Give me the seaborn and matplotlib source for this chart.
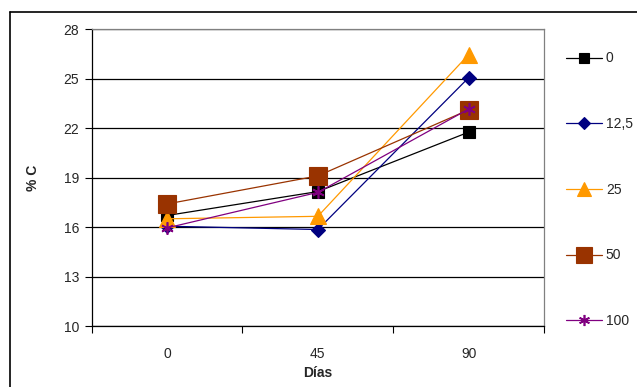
import matplotlib
matplotlib.use("Agg")
import matplotlib.pyplot as plt
from matplotlib.lines import Line2D
import seaborn as sns
import pandas as pd

dias = ["0", "45", "90"]
series = ["0", "12,5", "25", "50", "100"]
v_0 = [16.7, 18.15, 21.75]
v_12 = [16.05, 15.85, 25.05]
v_25 = [16.5, 16.65, 26.45]
v_50 = [17.4, 19.1, 23.1]
v_100 = [15.95, 18.1, 23.15]
values = [v_0, v_12, v_25, v_50, v_100]
yticks = [10, 13, 16, 19, 22, 25, 28]

colors = ["#000000", "#000080", "#FF9900", "#993300", "#800080"]
markers = ["s", "D", "^", "s", (6, 2, 0)]
msizes = [8.5, 6.8, 11, 12.5, 9]
leg_sizes = [7, 6, 10, 11, 8]
mews = [0.8, 0.8, 0.8, 0.8, 1.2]

rows = []
for s, vals in zip(series, values):
    for i, (d, v) in enumerate(zip(dias, vals)):
        rows.append({"serie": s, "pos": i, "dia": d, "val": v})
df = pd.DataFrame(rows)

sns.set_style("white")
plt.rcParams["font.family"] = ["Liberation Sans", "DejaVu Sans"]

fig = plt.figure(figsize=(6.37, 3.87), dpi=100)
ax = fig.add_axes([0.1440, 0.1575, 0.7100, 0.7675])

for s, c, m, ms, mew in zip(series, colors, markers, msizes, mews):
    sub = df[df["serie"] == s]
    sns.lineplot(data=sub, x="pos", y="val", ax=ax, color=c, marker=m,
                 markersize=ms, markeredgecolor=c, markerfacecolor=c,
                 markeredgewidth=mew, linewidth=0.9, label=s, legend=False,
                 zorder=3)

ax.set_xlim(-0.5, 2.5)
ax.set_ylim(10, 28)
ax.set_yticks(yticks)
ax.set_yticklabels([str(t) for t in yticks], fontsize=10)
ax.set_xticks([-0.5, 0.5, 1.5, 2.5])
ax.set_xticklabels([])
ax.set_xticks([0, 1, 2], minor=True)
ax.set_xticklabels(dias, minor=True, fontsize=10)
ax.tick_params(axis="x", which="major", direction="out", length=5, width=0.8,
               color="black", bottom=True)
ax.tick_params(axis="x", which="minor", length=0, pad=15)
ax.tick_params(axis="y", direction="out", length=5, width=0.8, color="black",
               left=True, pad=4)
ax.yaxis.grid(True, color="black", linewidth=0.9)
ax.set_axisbelow(True)
for side in ["left", "bottom"]:
    ax.spines[side].set_color("black")
    ax.spines[side].set_linewidth(0.9)
for side in ["top", "right"]:
    ax.spines[side].set_color("#808080")
    ax.spines[side].set_linewidth(0.9)
    ax.spines[side].set_visible(True)

ax.set_xlabel("Días", fontsize=10, fontweight="bold", labelpad=4)
ax.set_ylabel("% C", fontsize=10, fontweight="bold", labelpad=17)

handles = [Line2D([], [], color=c, marker=m, markersize=ms, markeredgecolor=c,
                  markerfacecolor=c, markeredgewidth=mew, linewidth=0.9)
           for c, m, ms, mew in zip(colors, markers, leg_sizes, mews)]
fig.legend(handles, series, loc="upper left",
           bbox_to_anchor=(0.889, 0.867), frameon=False, fontsize=10,
           handlelength=2.6, handletextpad=0.25, labelspacing=3.72,
           borderpad=0, borderaxespad=0)

fig.add_artist(Line2D([0.0157, 1.0], [0.969, 0.969], color="black",
                      linewidth=1.2, transform=fig.transFigure))
fig.add_artist(Line2D([0.0157, 0.0157], [0.0, 0.969], color="black",
                      linewidth=1.2, transform=fig.transFigure))

fig.savefig("out.png", dpi=100)
